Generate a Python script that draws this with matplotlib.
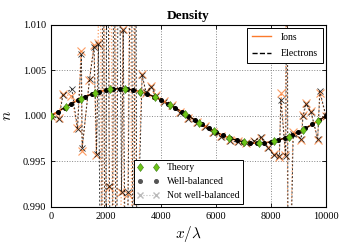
"""Density: ions/electrons, well-balanced vs not well-balanced scheme."""
import matplotlib
matplotlib.use("Agg")
import matplotlib.pyplot as plt
from matplotlib.lines import Line2D

plt.rcParams["font.family"] = ["Liberation Serif", "DejaVu Serif"]
plt.rcParams["mathtext.fontset"] = "cm"

# theory (diamonds)
x_theory = [0, 540, 1080, 1620, 2160, 2700, 3240, 3780, 4320, 4860,
            5400, 5940, 6480, 7020, 7560, 8100, 8640, 9180, 9720]
n_theory = [1.0000, 1.0010, 1.00188, 1.00255, 1.00293, 1.00298, 1.00268,
            1.00208, 1.00125, 1.00026, 0.99925, 0.99833, 0.99759, 0.99713,
            0.99700, 0.99721, 0.99774, 0.99851, 0.99947]

# well-balanced scheme (same for both species)
x_wb = [i * 250 for i in range(41)]
n_wb = [1.00000, 1.00047, 1.00093, 1.00136, 1.00176, 1.00212, 1.00243,
        1.00267, 1.00285, 1.00296, 1.00300, 1.00296, 1.00285, 1.00267,
        1.00243, 1.00212, 1.00176, 1.00136, 1.00093, 1.00047, 1.00000,
        0.99953, 0.99907, 0.99864, 0.99824, 0.99788, 0.99757, 0.99733,
        0.99715, 0.99704, 0.99700, 0.99704, 0.99715, 0.99733, 0.99757,
        0.99788, 0.99824, 0.99864, 0.99907, 0.99953, 1.00000]

# not well-balanced scheme
x_nwb_i = [0, 280, 430, 750, 960, 1100, 1130, 1400, 1560, 1650,
           1720, 1790, 1860, 1940, 2010, 2100, 2180, 2260, 2340, 2420,
           2560, 2620, 2700, 2800, 2880, 2960, 3040, 3110, 3170, 3310,
           3450, 3640, 3820, 4100, 4400, 4700, 5000, 5300, 5600, 5900,
           6200, 6500, 6800, 7100, 7400, 7650, 7900, 8100, 8300, 8370,
           8520, 8580, 8620, 8800, 9090, 9160, 9270, 9450, 9700, 9770, 10000]
n_nwb_i = [1.0000, 0.9998, 1.0024, 1.0022, 0.9987, 1.0071, 0.9962, 1.0040, 1.0078, 0.9957,
           1.0080, 1.030, 0.970, 1.030, 0.970, 0.9922, 1.030, 0.970, 1.030, 0.970,
           0.9916, 1.0095, 0.970, 0.9914, 1.030, 0.970, 1.030, 0.970, 0.9910, 1.0046,
           1.0025, 1.0033, 1.0023, 1.0016, 1.0012, 1.0004, 0.9998, 0.9993, 0.9989, 0.9982,
           0.9978, 0.9974, 0.9972, 0.9970, 0.9972, 0.9976, 0.9966, 0.9958, 0.9955, 1.0025,
           0.9957, 1.030, 0.970, 0.9982, 0.9974, 1.0001, 1.0014, 1.0005, 0.9974, 1.0025, 1.0000]

x_nwb_e = [0, 290, 440, 760, 970, 1110, 1140, 1410, 1570, 1660,
           1730, 1830, 1900, 1980, 2050, 2130, 2220, 2300, 2380, 2460,
           2570, 2630, 2740, 2810, 2920, 3000, 3080, 3140, 3200, 3320,
           3460, 3650, 3830, 4110, 4400, 4700, 5000, 5300, 5600, 5900,
           6200, 6500, 6800, 7100, 7400, 7640, 7890, 8110, 8310, 8360,
           8540, 8590, 8630, 8810, 9100, 9170, 9280, 9460, 9700, 9780, 10000]
n_nwb_e = [1.0000, 0.9997, 1.0023, 1.0030, 0.9986, 1.0068, 0.9965, 1.0041, 1.0076, 0.9958,
           1.0079, 0.970, 1.030, 0.970, 1.030, 0.9923, 0.970, 1.030, 0.970, 1.030,
           0.9917, 1.0094, 0.970, 0.9916, 1.030, 0.970, 1.030, 0.970, 0.9912, 1.0045,
           1.0026, 1.0032, 1.0022, 1.0015, 1.0011, 1.0003, 0.9997, 0.9992, 0.9988, 0.9981,
           0.9977, 0.9973, 0.9971, 0.9970, 0.9973, 0.9977, 0.9965, 0.9957, 0.9956, 1.0018,
           0.9956, 1.030, 0.970, 0.9980, 0.9975, 1.0000, 1.0013, 1.0004, 0.9975, 1.0027, 1.0000]

ORANGE = "#fb7a2c"
GREEN = "#6cc417"


def main():
    fig = plt.figure(figsize=(3.46, 2.47), dpi=100)
    ax = fig.add_axes([0.147, 0.162, 0.795, 0.737])

    # not well-balanced
    ax.plot(x_nwb_i, n_nwb_i, color=ORANGE, ls=":", lw=0.9, marker="x",
            ms=5.5, mew=0.8, alpha=0.75, zorder=2)
    ax.plot(x_nwb_e, n_nwb_e, color="black", ls="--", lw=0.7, marker="x",
            ms=5, mew=0.6, dashes=(2, 2), alpha=0.8, zorder=2)

    # well-balanced
    ax.plot(x_wb, n_wb, color=ORANGE, ls="-", lw=1.3, zorder=3)
    ax.plot(x_wb, n_wb, color="black", ls="--", lw=0.8, marker="o",
            ms=2.6, zorder=4)

    # theory
    ax.plot(x_theory, n_theory, ls="none", marker="d", ms=4.5,
            mfc=GREEN, mec="#3a7a10", mew=0.4, zorder=5)

    ax.set_xlim(0, 10000)
    ax.set_ylim(0.990, 1.010)
    ax.set_xticks([0, 2000, 4000, 6000, 8000, 10000])
    ax.set_yticks([0.990, 0.995, 1.000, 1.005, 1.010])
    ax.set_yticklabels(["0.990", "0.995", "1.000", "1.005", "1.010"])
    ax.tick_params(direction="in", top=True, right=True, labelsize=7.5,
                   length=3, width=0.6)
    ax.grid(True, ls=":", color="#888888", lw=0.7)
    for s in ax.spines.values():
        s.set_linewidth(0.8)
    ax.set_xlabel(r"$x/\lambda$", fontsize=11, labelpad=2)
    ax.set_ylabel(r"$n$", fontsize=11, labelpad=6)
    ax.set_title("Density", fontsize=9.5, fontweight="bold", pad=4)

    h1 = [Line2D([], [], color=ORANGE, lw=1.0),
          Line2D([], [], color="black", ls="--", lw=1.0)]
    leg1 = ax.legend(h1, ["Ions", "Electrons"], loc="upper right",
                     fontsize=7, fancybox=False, edgecolor="black",
                     framealpha=1, borderaxespad=0.3, handlelength=2.0,
                     labelspacing=0.75, borderpad=0.5, handletextpad=1.0)
    leg1.get_frame().set_linewidth(0.7)
    ax.add_artist(leg1)

    h2 = [Line2D([], [], ls="none", marker="d", ms=4.5, mfc=GREEN,
                 mec="#3a7a10", mew=0.4),
          Line2D([], [], ls="none", marker="o", ms=2.6, color="#555555"),
          Line2D([], [], ls=":", lw=0.8, marker="x", ms=5, color="#bbbbbb")]
    leg2 = ax.legend(h2, ["Theory", "Well-balanced", "Not well-balanced"],
                     loc="lower center", numpoints=2, fontsize=7,
                     fancybox=False, edgecolor="black", framealpha=1,
                     borderaxespad=0.3, handlelength=2.2, labelspacing=0.5)
    leg2.get_frame().set_linewidth(0.7)

    fig.savefig("out.png", dpi=100)


if __name__ == "__main__":
    main()
